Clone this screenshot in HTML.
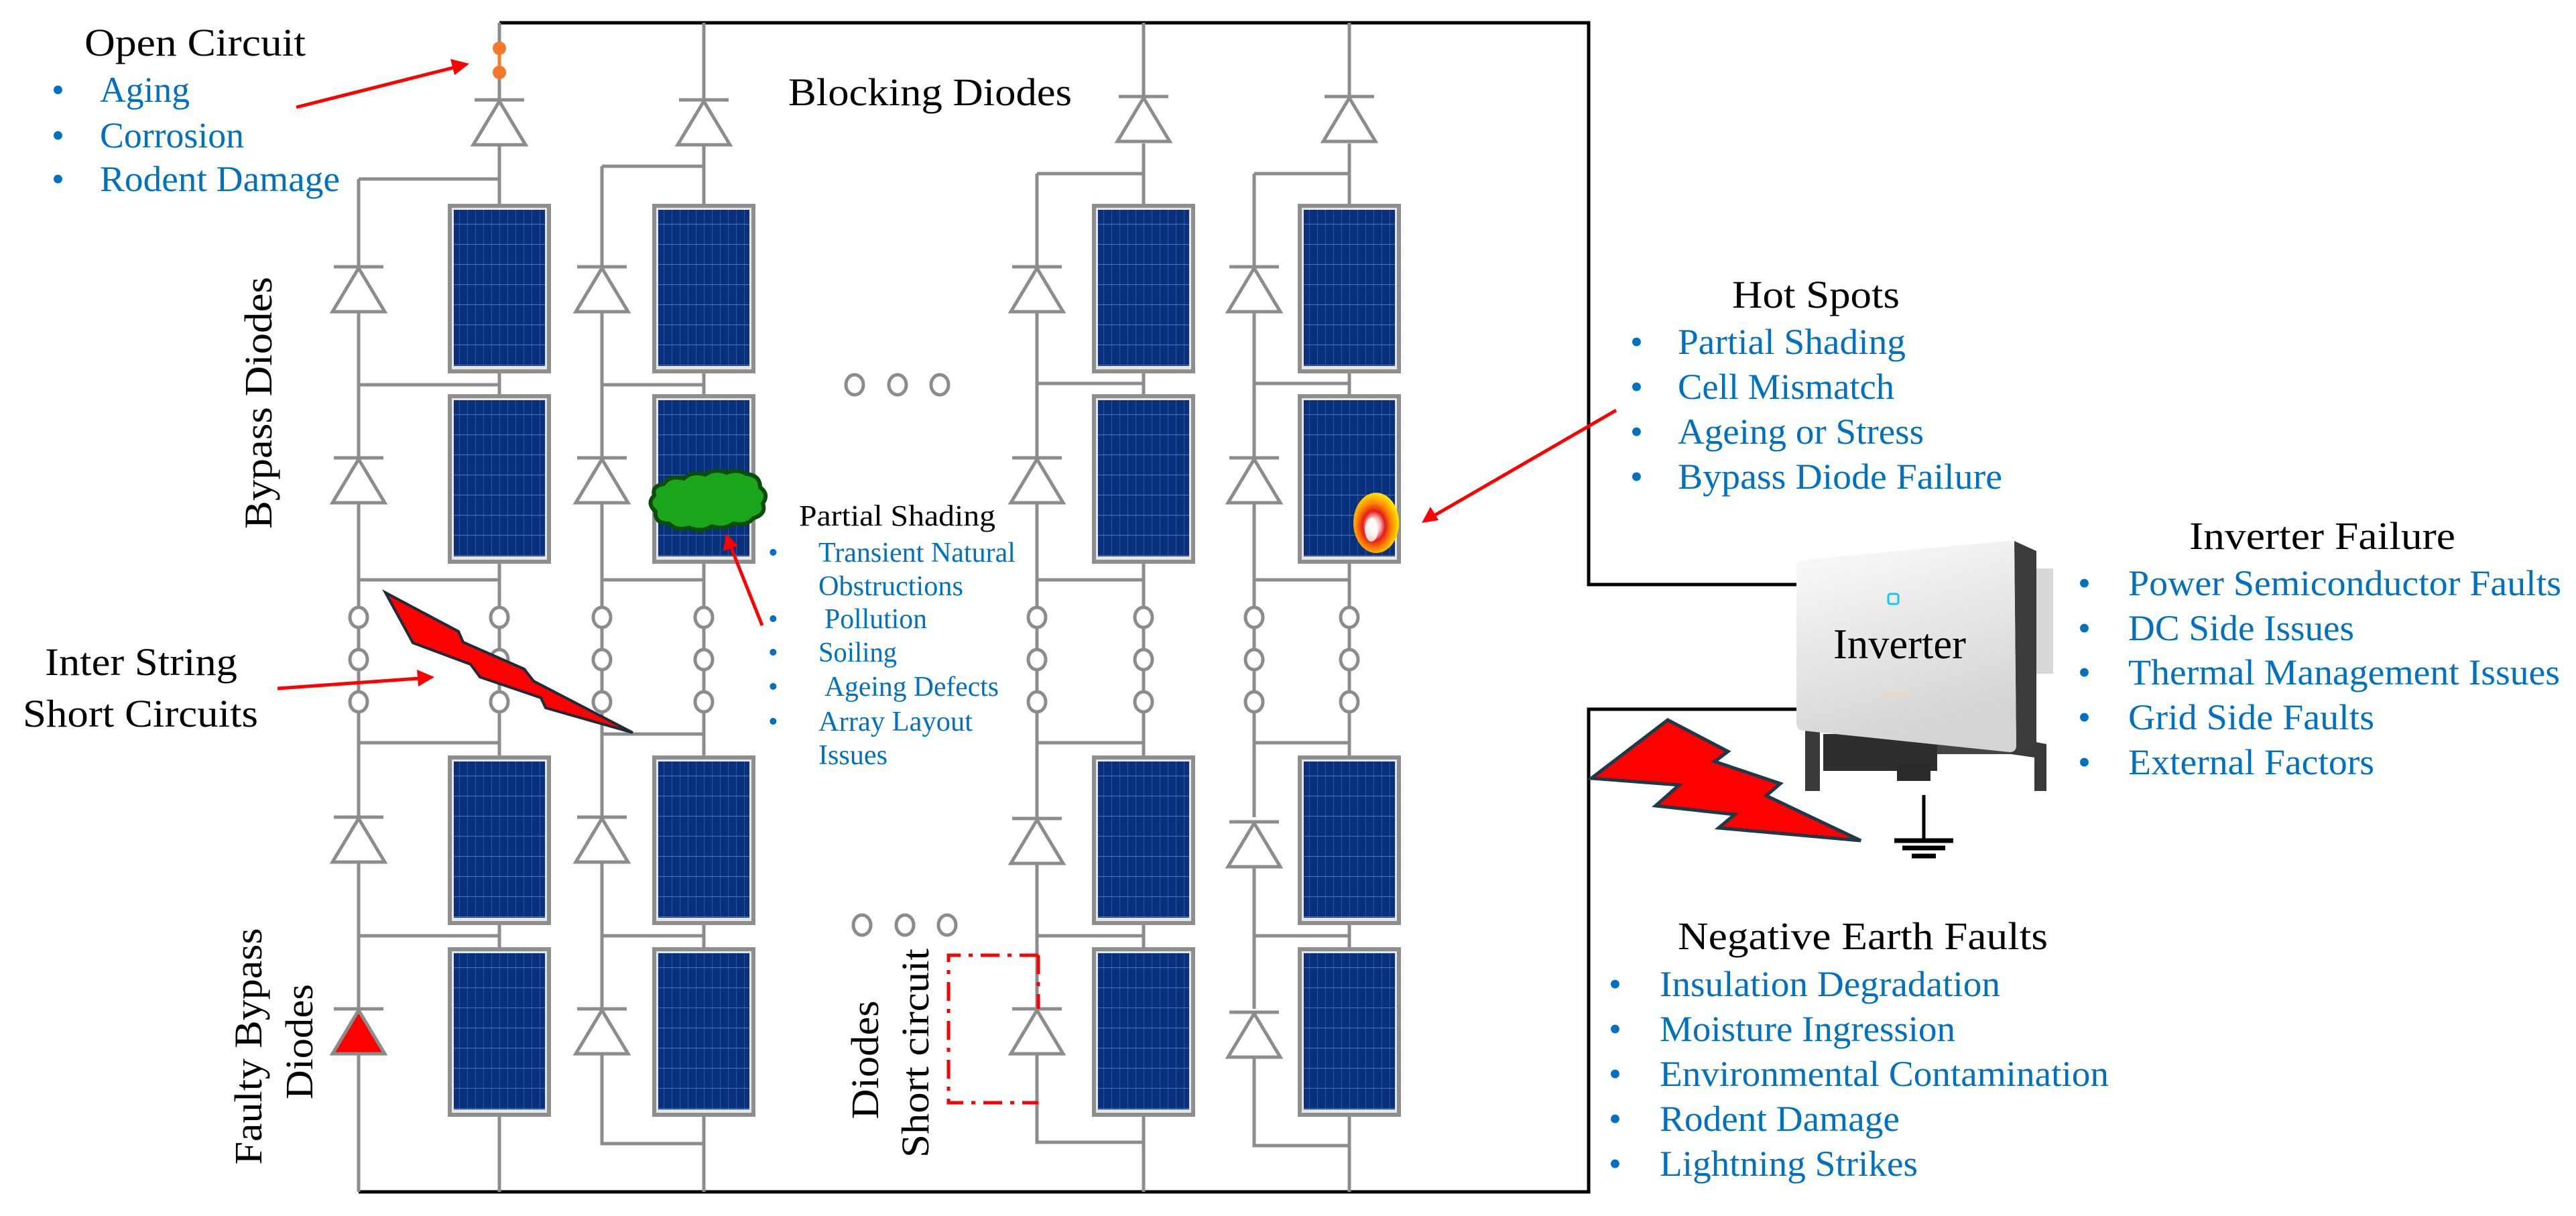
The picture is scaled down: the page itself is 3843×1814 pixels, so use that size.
<!DOCTYPE html>
<html><head><meta charset="utf-8"><style>html,body{margin:0;padding:0;background:#fff}svg{display:block}text{font-family:"Liberation Serif","DejaVu Serif","Noto Serif CJK SC",serif !important}</style></head>
<body>
<svg width="3843" height="1814" viewBox="0 0 3843 1814" xmlns="http://www.w3.org/2000/svg" font-family="Liberation Serif, DejaVu Serif, serif">
<defs>
<pattern id="cells" width="12" height="30" patternUnits="userSpaceOnUse">
<rect width="12" height="30" fill="#08307c"/>
<line x1="0.5" y1="0" x2="0.5" y2="30" stroke="#2d569e" stroke-width="1"/>
<line x1="0" y1="0.5" x2="12" y2="0.5" stroke="#4a70b4" stroke-width="1.2"/>
</pattern>
<g id="pan">
<rect x="-77" y="0" width="154" height="253" fill="#8e8e8e"/>
<rect x="-71" y="6" width="142" height="241" fill="#e6e6e6"/>
<rect x="-68" y="9" width="136" height="233" fill="url(#cells)"/>
</g>
<g id="dio" stroke="#8c8c8c" stroke-width="5" fill="#fff">
<line x1="-37" y1="0" x2="37" y2="0"/>
<polygon points="0,2 -39,67 39,67"/>
</g>
<g id="cir"><ellipse cx="0" cy="0" rx="13" ry="15" stroke="#8c8c8c" stroke-width="5" fill="#fff"/></g>
<radialGradient id="hot" cx="0.45" cy="0.55" r="0.55">
<stop offset="0" stop-color="#ffffff"/><stop offset="0.25" stop-color="#f3c0c0"/><stop offset="0.45" stop-color="#e31b1b"/><stop offset="0.7" stop-color="#ff8a00"/><stop offset="1" stop-color="#ffe600"/>
</radialGradient>
<linearGradient id="inv" x1="0" y1="0" x2="0.3" y2="1">
<stop offset="0" stop-color="#fbfbfb"/><stop offset="1" stop-color="#d4d4d4"/>
</linearGradient>
</defs>

<g stroke="#000" stroke-width="5" fill="none">
<polyline points="745,34 2370,34 2370,872 2682,872"/>
<polyline points="535,1778 2370,1778 2370,1058 2682,1058"/>
</g>

<g stroke="#8c8c8c" stroke-width="5" fill="none">
<path d="M745,34V147 M745,214V304 M745,557V588 M745,841V907 M745,935V970 M745,999V1033 M745,1061V1127 M745,1379V1413 M745,1665V1778"/>
<path d="M535,267H745 M535,267V398 M535,465V683 M535,750V907 M535,935V970 M535,999V1033 M535,1061V1219 M535,1286V1505 M535,1572V1778 M535,574H745 M535,865H745 M535,1108H745 M535,1396H745"/>
<path d="M1050,34V147 M1050,214V304 M1050,557V588 M1050,841V907 M1050,935V970 M1050,999V1033 M1050,1061V1127 M1050,1379V1413 M1050,1665V1778"/>
<path d="M898,248H1050 M898,248V398 M898,465V683 M898,750V907 M898,935V970 M898,999V1033 M898,1061V1219 M898,1286V1505 M898,1572V1706H1050 M898,574H1050 M898,865H1050 M898,1095H1050 M898,1396H1050"/>
<path d="M1706,34V147 M1706,214V304 M1706,557V588 M1706,841V907 M1706,935V970 M1706,999V1033 M1706,1061V1127 M1706,1379V1413 M1706,1665V1778"/>
<path d="M1547,259H1706 M1547,259V398 M1547,465V683 M1547,750V907 M1547,935V970 M1547,999V1033 M1547,1061V1219 M1547,1286V1505 M1547,1572V1704H1706 M1547,572H1706 M1547,865H1706 M1547,1108H1706 M1547,1396H1706"/>
<path d="M2013,34V147 M2013,214V304 M2013,557V588 M2013,841V907 M2013,935V970 M2013,999V1033 M2013,1061V1127 M2013,1379V1413 M2013,1665V1778"/>
<path d="M1871,259H2013 M1871,259V398 M1871,465V683 M1871,750V907 M1871,935V970 M1871,999V1033 M1871,1061V1219 M1871,1286V1505 M1871,1572V1709H2013 M1871,572H2013 M1871,865H2013 M1871,1108H2013 M1871,1396H2013"/>
</g>

<g>
<use href="#pan" x="745" y="304"/><use href="#pan" x="745" y="588"/><use href="#pan" x="745" y="1127"/><use href="#pan" x="745" y="1413"/>
<use href="#pan" x="1050" y="304"/><use href="#pan" x="1050" y="588"/><use href="#pan" x="1050" y="1127"/><use href="#pan" x="1050" y="1413"/>
<use href="#pan" x="1706" y="304"/><use href="#pan" x="1706" y="588"/><use href="#pan" x="1706" y="1127"/><use href="#pan" x="1706" y="1413"/>
<use href="#pan" x="2013" y="304"/><use href="#pan" x="2013" y="588"/><use href="#pan" x="2013" y="1127"/><use href="#pan" x="2013" y="1413"/>
</g>

<g>
<use href="#dio" x="745" y="149"/><use href="#dio" x="1050" y="149"/><use href="#dio" x="1706" y="144"/><use href="#dio" x="2013" y="144"/>
<use href="#dio" x="535" y="398"/><use href="#dio" x="535" y="683"/><use href="#dio" x="535" y="1219"/>
<use href="#dio" x="898" y="398"/><use href="#dio" x="898" y="683"/><use href="#dio" x="898" y="1219"/><use href="#dio" x="898" y="1505"/>
<use href="#dio" x="1547" y="398"/><use href="#dio" x="1547" y="683"/><use href="#dio" x="1547" y="1221"/><use href="#dio" x="1547" y="1505"/>
<use href="#dio" x="1871" y="398"/><use href="#dio" x="1871" y="683"/><use href="#dio" x="1871" y="1226"/><use href="#dio" x="1871" y="1510"/>
<line x1="498" y1="1505" x2="572" y2="1505" stroke="#8c8c8c" stroke-width="5"/>
<polygon points="535,1507 496,1572 574,1572" fill="#f00" stroke="#8c8c8c" stroke-width="5"/>
</g>

<g>
<use href="#cir" x="535" y="921"/><use href="#cir" x="535" y="984"/><use href="#cir" x="535" y="1047"/>
<use href="#cir" x="745" y="921"/><use href="#cir" x="745" y="984"/><use href="#cir" x="745" y="1047"/>
<use href="#cir" x="898" y="921"/><use href="#cir" x="898" y="984"/><use href="#cir" x="898" y="1047"/>
<use href="#cir" x="1050" y="921"/><use href="#cir" x="1050" y="984"/><use href="#cir" x="1050" y="1047"/>
<use href="#cir" x="1547" y="921"/><use href="#cir" x="1547" y="984"/><use href="#cir" x="1547" y="1047"/>
<use href="#cir" x="1706" y="921"/><use href="#cir" x="1706" y="984"/><use href="#cir" x="1706" y="1047"/>
<use href="#cir" x="1871" y="921"/><use href="#cir" x="1871" y="984"/><use href="#cir" x="1871" y="1047"/>
<use href="#cir" x="2013" y="921"/><use href="#cir" x="2013" y="984"/><use href="#cir" x="2013" y="1047"/>
<use href="#cir" x="1275" y="574"/><use href="#cir" x="1339" y="574"/><use href="#cir" x="1402" y="574"/>
<use href="#cir" x="1286" y="1380"/><use href="#cir" x="1350" y="1380"/><use href="#cir" x="1413" y="1380"/>
</g>

<line x1="745" y1="70" x2="745" y2="109" stroke="#f08030" stroke-width="5"/>
<circle cx="745" cy="72" r="10" fill="#f5782a"/><circle cx="745" cy="108" r="10" fill="#f5782a"/>

<polygon points="575,884 684,942 691,958 782,998 796,1016 944,1093 814,1056 807,1041 716,1010 702,991 616,959" fill="#f00" stroke="#1d2b3a" stroke-width="4"/>

<polygon points="2488,1074 2578,1121 2558,1136 2656,1169 2635,1187 2776,1254 2564,1235 2588,1215 2470,1202 2505,1171 2374,1161" fill="#f00" stroke="#1d3a4a" stroke-width="5"/>

<g stroke="#000" fill="none">
<line x1="2870" y1="1186" x2="2870" y2="1253" stroke-width="5"/>
<line x1="2826" y1="1254" x2="2914" y2="1254" stroke-width="7"/>
<line x1="2838" y1="1265" x2="2902" y2="1265" stroke-width="7"/>
<line x1="2852" y1="1277" x2="2888" y2="1277" stroke-width="7"/>
</g>

<path d="M990,722 q10,-14 30,-8 q12,-12 32,-6 q14,-10 32,-3 q16,-6 30,2 q20,2 20,20 q14,10 4,24 q6,16 -14,22 q-10,12 -30,8 q-14,10 -32,4 q-16,10 -34,2 q-18,6 -30,-6 q-22,0 -20,-18 q-14,-12 -2,-24 q-4,-14 14,-17z" fill="#1aa51a" stroke="#0c4d0c" stroke-width="6"/>

<ellipse cx="2053" cy="780" rx="34" ry="45" fill="url(#hot)"/>
<ellipse cx="2046" cy="790" rx="10" ry="18" fill="#fff" opacity="0.8"/>

<path d="M1549,1425H1415V1645H1549M1549,1425V1505" stroke="#f00" stroke-width="5" fill="none" stroke-dasharray="28,12,6,12"/>

<g stroke="#f00" stroke-width="5" fill="#f00">
<line x1="442" y1="160" x2="680" y2="100"/><polygon points="700,95 672,88 678,112" stroke="none"/>
<line x1="414" y1="1027" x2="625" y2="1012"/><polygon points="648,1010 622,999 624,1024" stroke="none"/>
<line x1="1137" y1="933" x2="1090" y2="815"/><polygon points="1083,796 1079,822 1101,814" stroke="none"/>
<line x1="2411" y1="612" x2="2138" y2="770"/><polygon points="2121,780 2134,756 2146,776" stroke="none"/>
</g>

<g>
<rect x="2693" y="1090" width="22" height="90" fill="#3a3a3a"/>
<rect x="2720" y="1095" width="170" height="55" fill="#2e2e2e"/>
<rect x="2830" y="1140" width="50" height="25" fill="#2a2a2a"/>
<polygon points="3000,1100 3053,1110 3053,1180 3035,1180 3035,1130 3000,1125" fill="#3a3a3a"/>
<rect x="2890" y="1100" width="110" height="25" fill="#444"/>
<polygon points="3005,807 3038,822 3038,1113 3008,1122" fill="#3c3c3c"/>
<rect x="3038" y="848" width="25" height="157" fill="#d8d8d8"/>
<path d="M2692,835 L2995,807 Q3005,806 3005,816 L3008,1112 Q3008,1122 2998,1122 L2690,1090 Q2680,1089 2680,1079 L2680,846 Q2680,836 2692,835z" fill="url(#inv)"/>
<rect x="2817" y="886" width="15" height="15" rx="3" fill="none" stroke="#18c4f0" stroke-width="3"/>
<text x="2834" y="982" font-size="64" text-anchor="middle" textLength="198" lengthAdjust="spacingAndGlyphs" font-family="Liberation Serif, serif">Inverter</text>
<rect x="2803" y="1031" width="44" height="8" fill="#e9d8cc"/>
</g>

<g font-size="58" fill="#000" font-family="Liberation Serif, serif">
<text x="126" y="83" textLength="330" lengthAdjust="spacingAndGlyphs">Open Circuit</text>
<text x="1176" y="157" textLength="423" lengthAdjust="spacingAndGlyphs">Blocking Diodes</text>
<text x="2584" y="459" textLength="250" lengthAdjust="spacingAndGlyphs">Hot Spots</text>
<text x="3266" y="819" textLength="397" lengthAdjust="spacingAndGlyphs">Inverter Failure</text>
<text x="2503" y="1416" textLength="552" lengthAdjust="spacingAndGlyphs">Negative Earth Faults</text>
<text x="67" y="1007" textLength="287" lengthAdjust="spacingAndGlyphs">Inter String</text>
<text x="34" y="1084" textLength="351" lengthAdjust="spacingAndGlyphs">Short Circuits</text>
<text transform="translate(405,601) rotate(-90)" text-anchor="middle" textLength="376" lengthAdjust="spacingAndGlyphs">Bypass Diodes</text>
<text transform="translate(390,1561) rotate(-90)" text-anchor="middle" textLength="353" lengthAdjust="spacingAndGlyphs">Faulty Bypass</text>
<text transform="translate(466,1554) rotate(-90)" text-anchor="middle" textLength="172" lengthAdjust="spacingAndGlyphs">Diodes</text>
<text transform="translate(1310,1581) rotate(-90)" text-anchor="middle" textLength="177" lengthAdjust="spacingAndGlyphs">Diodes</text>
<text transform="translate(1385,1571) rotate(-90)" text-anchor="middle" textLength="312" lengthAdjust="spacingAndGlyphs">Short circuit</text>
<text x="1192" y="784" font-size="44" textLength="293" lengthAdjust="spacingAndGlyphs">Partial Shading</text>
</g>

<g fill="#0070c0" font-size="54" font-family="Liberation Serif, serif">
<text x="77" y="152">•</text><text x="149" y="152" textLength="134" lengthAdjust="spacingAndGlyphs">Aging</text>
<text x="77" y="220">•</text><text x="149" y="220" textLength="215" lengthAdjust="spacingAndGlyphs">Corrosion</text>
<text x="77" y="285">•</text><text x="149" y="285" textLength="358" lengthAdjust="spacingAndGlyphs">Rodent Damage</text>
<text x="2432" y="528">•</text><text x="2503" y="528" textLength="340" lengthAdjust="spacingAndGlyphs">Partial Shading</text>
<text x="2432" y="595">•</text><text x="2503" y="595" textLength="323" lengthAdjust="spacingAndGlyphs">Cell Mismatch</text>
<text x="2432" y="662">•</text><text x="2503" y="662" textLength="367" lengthAdjust="spacingAndGlyphs">Ageing or Stress</text>
<text x="2432" y="729">•</text><text x="2503" y="729" textLength="484" lengthAdjust="spacingAndGlyphs">Bypass Diode Failure</text>
<text x="3100" y="888">•</text><text x="3175" y="888" textLength="646" lengthAdjust="spacingAndGlyphs">Power Semiconductor Faults</text>
<text x="3100" y="955">•</text><text x="3175" y="955" textLength="337" lengthAdjust="spacingAndGlyphs">DC Side Issues</text>
<text x="3100" y="1021">•</text><text x="3175" y="1021" textLength="644" lengthAdjust="spacingAndGlyphs">Thermal Management Issues</text>
<text x="3100" y="1088">•</text><text x="3175" y="1088" textLength="367" lengthAdjust="spacingAndGlyphs">Grid Side Faults</text>
<text x="3100" y="1155">•</text><text x="3175" y="1155" textLength="367" lengthAdjust="spacingAndGlyphs">External Factors</text>
<text x="2400" y="1486">•</text><text x="2476" y="1486" textLength="508" lengthAdjust="spacingAndGlyphs">Insulation Degradation</text>
<text x="2400" y="1553">•</text><text x="2476" y="1553" textLength="441" lengthAdjust="spacingAndGlyphs">Moisture Ingression</text>
<text x="2400" y="1620">•</text><text x="2476" y="1620" textLength="670" lengthAdjust="spacingAndGlyphs">Environmental Contamination</text>
<text x="2400" y="1687">•</text><text x="2476" y="1687" textLength="358" lengthAdjust="spacingAndGlyphs">Rodent Damage</text>
<text x="2400" y="1754">•</text><text x="2476" y="1754" textLength="385" lengthAdjust="spacingAndGlyphs">Lightning Strikes</text>
</g>

<g fill="#0070c0" font-size="42" font-family="Liberation Serif, serif">
<text x="1146" y="838">•</text><text x="1221" y="838" textLength="294" lengthAdjust="spacingAndGlyphs">Transient Natural</text>
<text x="1221" y="888" textLength="216" lengthAdjust="spacingAndGlyphs">Obstructions</text>
<text x="1146" y="937">•</text><text x="1230" y="937" textLength="153" lengthAdjust="spacingAndGlyphs">Pollution</text>
<text x="1146" y="987">•</text><text x="1221" y="987" textLength="117" lengthAdjust="spacingAndGlyphs">Soiling</text>
<text x="1146" y="1038">•</text><text x="1230" y="1038" textLength="260" lengthAdjust="spacingAndGlyphs">Ageing Defects</text>
<text x="1146" y="1090">•</text><text x="1221" y="1090" textLength="230" lengthAdjust="spacingAndGlyphs">Array Layout</text>
<text x="1221" y="1140" textLength="103" lengthAdjust="spacingAndGlyphs">Issues</text>
</g>
</svg>
</body></html>
